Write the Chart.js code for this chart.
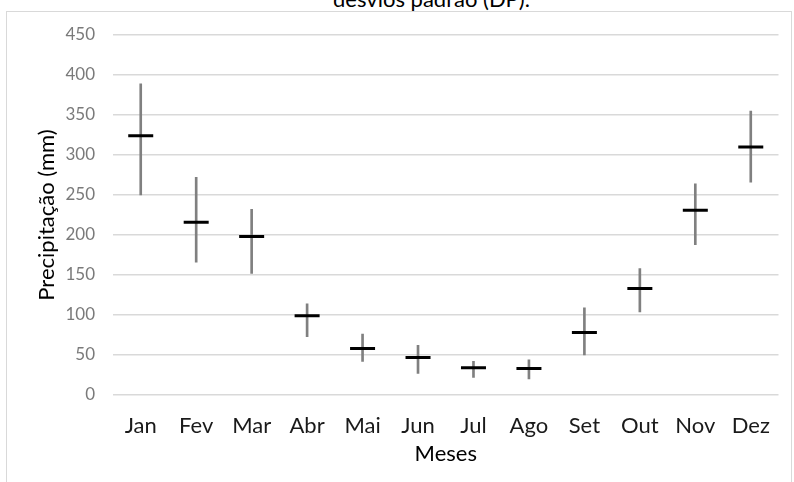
<!DOCTYPE html>
<html>
<head>
<meta charset="utf-8">
<script src="https://cdn.jsdelivr.net/npm/chart.js@4/dist/chart.umd.min.js"></script>
<style>
    html, body { margin: 0; padding: 0; background: #fff; overflow: hidden; }
    #wrap { position: relative; width: 794px; height: 482px; overflow: hidden; }
    #titulo { position: absolute; top: -12px; left: 333px; white-space: nowrap;
              font-family: Lato, sans-serif; font-size: 22px; line-height: 22px; color: #000; }
    #moldura { position: absolute; left: 6px; top: 11px; width: 786px; height: 500px;
               border: 1px solid #d9d9d9; box-sizing: border-box; }
    #grafico { position: absolute; left: 0; top: 0; }
</style>
</head>
<body>
<div id="wrap">
    <div id="titulo">desvios padrão (DP).</div>
    <div id="moldura"></div>
    <canvas id="grafico" width="794" height="482"></canvas>
</div>
<script>
// Precipitação mensal: média e faixa de desvio padrão (mm)
const meses = ['Jan', 'Fev', 'Mar', 'Abr', 'Mai', 'Jun', 'Jul', 'Ago', 'Set', 'Out', 'Nov', 'Dez'];
const media = [324, 216, 198, 99, 58, 47, 34, 33, 78, 133, 231, 310];
const dpInferior = [250, 166, 152, 73, 42, 27, 22, 20, 50, 104, 188, 266];
const dpSuperior = [389, 272, 232, 114, 76, 62, 42, 44, 109, 158, 264, 355];
const yTicks = [0, 50, 100, 150, 200, 250, 300, 350, 400, 450];

var faixa = meses.map((m, i) => [dpInferior[i], dpSuperior[i]]);

var ctx = document.getElementById('grafico').getContext('2d');
new Chart(ctx, {
    type: 'bar',
    data: {
        labels: meses,
        datasets: [{
            type: 'line',
            data: media,
            showLine: false,
            pointStyle: 'line',
            pointRadius: 12.5,
            pointHoverRadius: 12.5,
            borderWidth: 3,
            pointBorderWidth: 3,
            borderColor: '#000',
            order: 0
        }, {
            data: faixa,
            backgroundColor: '#808080',
            barThickness: 2,
            order: 1
        }]
    },
    options: {
        responsive: false,
        animation: false,
        layout: { padding: { top: 35, right: 14, left: 0, bottom: 0 } },
        plugins: {
            legend: { display: false },
            tooltip: { enabled: false }
        },
        scales: {
            x: {
                grid: { display: false },
                border: { display: false },
                ticks: {
                    color: '#1a1a1a',
                    padding: 10,
                    font: { family: 'Lato', size: 22 }
                },
                title: {
                    display: true,
                    text: 'Meses',
                    color: '#000',
                    padding: { top: 0, bottom: 15 },
                    font: { family: 'Lato', size: 22 }
                },
                afterFit: (scale) => { scale.height = 87; }
            },
            y: {
                min: 0,
                max: 450,
                afterBuildTicks: (scale) => { scale.ticks = yTicks.map(v => ({value: v})); },
                grid: { color: '#d9d9d9', lineWidth: 1.5, drawTicks: false },
                border: { display: false },
                ticks: {
                    color: '#7a7a7a',
                    padding: 18,
                    font: { family: 'Lato', size: 17 }
                },
                title: {
                    display: true,
                    text: 'Precipitação (mm)',
                    color: '#000',
                    padding: { top: 34, bottom: 0 },
                    font: { family: 'Lato', size: 22 }
                },
                afterFit: (scale) => { scale.width = 113; }
            }
        }
    }
});
</script>
</body>
</html>
